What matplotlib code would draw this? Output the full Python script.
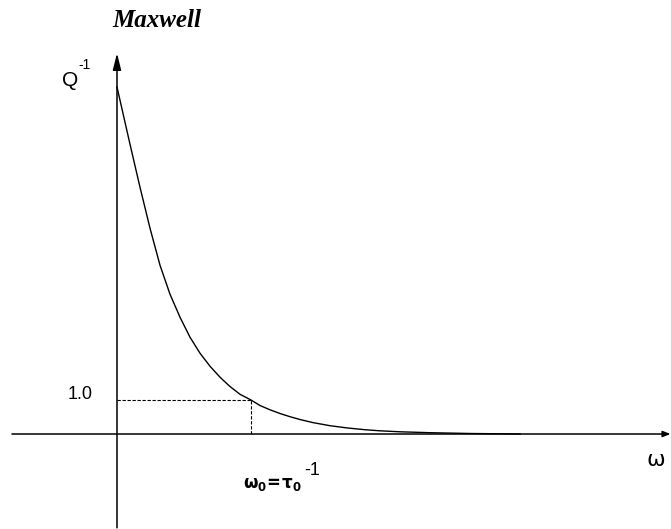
import numpy as np
import matplotlib
matplotlib.use("Agg")
import matplotlib.pyplot as plt

# curve (omega in units of omega_0, Q^-1 in units of Q^-1(omega_0))
omega = [0.0, 0.0485, 0.097, 0.1343, 0.1716, 0.209, 0.2463, 0.2836, 0.3209,
         0.3582, 0.3955, 0.4328, 0.4701, 0.5075, 0.5448, 0.5821, 0.6194,
         0.6567, 0.694, 0.7313, 0.7687, 0.806, 0.8433, 0.9179, 1.0,
         1.0672, 1.1418, 1.2164, 1.291, 1.3657, 1.4627, 1.5896, 1.7164,
         1.8507, 1.9627, 2.1119, 2.3358, 2.6343, 3.0075]
q_inv = [10.206, 9.365, 8.524, 7.891, 7.259, 6.656, 6.053, 5.509, 4.965,
         4.538, 4.112, 3.774, 3.435, 3.141, 2.847, 2.612, 2.376,
         2.185, 1.994, 1.832, 1.671, 1.532, 1.397, 1.168, 1.0,
         0.838, 0.712, 0.603, 0.509, 0.426, 0.335, 0.244, 0.179,
         0.126, 0.094, 0.065, 0.038, 0.015, 0.0]
omega0 = 1.0
q0 = 1.0

if __name__ == '__main__':
    fig = plt.figure(figsize=(6.71, 5.29), dpi=100)
    ax = fig.add_axes([0, 0, 1, 1])
    ax.set_xlim(-0.873, 4.134)
    ax.set_ylim(-2.794, 12.765)
    ax.axis('off')

    # axes with arrows
    ax.annotate('', xy=(4.13, 0), xytext=(-0.784, 0),
                arrowprops=dict(arrowstyle='-|>,head_length=0.45,head_width=0.18',
                                lw=1.1, color='black', shrinkA=0, shrinkB=0))
    ax.annotate('', xy=(0, 11.2), xytext=(0, -2.76),
                arrowprops=dict(arrowstyle='-|>,head_length=1.0,head_width=0.25',
                                lw=1.1, color='black', shrinkA=0, shrinkB=0))

    # curve
    ax.plot(omega, q_inv, color='black', lw=1.0)

    # dashed guides at omega_0
    ax.plot([0, omega0], [q0, q0], color='black', lw=0.8, ls=(0, (3, 1.5)))
    ax.plot([omega0, omega0], [0, q0], color='black', lw=0.8, ls=(0, (3, 1.5)))

    ax.text(0.30, 12.15, "Maxwell", family='Liberation Serif', weight='bold',
            style='italic', fontsize=18, ha='center', va='center')
    ax.text(-0.347, 10.40, "Q", family='Liberation Sans', fontsize=15,
            ha='center', va='center')
    ax.text(-0.246, 10.85, "-1", family='Liberation Sans', fontsize=10,
            ha='center', va='center')
    ax.text(-0.179, 1.15, "1.0", family='Liberation Sans', fontsize=13,
            ha='right', va='center')
    ax.text(0.94, -1.47, r"$\mathbf{\omega_0\!=\!\tau_0}$", fontsize=12,
            ha='left', va='center')
    ax.text(1.46, -1.06, "-1", family='Liberation Sans', fontsize=13,
            ha='center', va='center')
    ax.text(4.02, -0.76, "ω", family='DejaVu Sans', fontsize=16,
            ha='center', va='center')

    plt.savefig("out.png", dpi=100)
